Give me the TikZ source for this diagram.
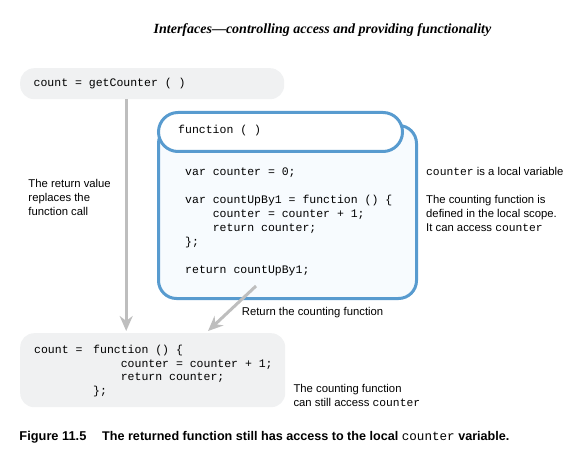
\documentclass[tikz,border=0pt]{standalone}
\usepackage{fontspec}
\setmainfont{Liberation Sans}
\setsansfont{Liberation Sans}
\setmonofont{Liberation Mono}
\newfontfamily\headfont{Liberation Serif}
\usetikzlibrary{arrows.meta}
\definecolor{boxgray}{RGB}{240,241,242}
\definecolor{fnblue}{RGB}{88,155,207}
\definecolor{bodyfill}{RGB}{247,251,254}
\definecolor{arrgray}{RGB}{190,190,190}
\tikzset{
  code/.style={inner sep=0pt, anchor=base west, align=left,
    font=\fontsize{11.5bp}{14bp}\selectfont\ttfamily},
  note/.style={inner sep=0pt, anchor=base west, align=left,
    font=\fontsize{11.3bp}{14bp}\selectfont\rmfamily},
  captext/.style={inner sep=0pt, anchor=base west,
    font=\fontsize{12.6bp}{14bp}\selectfont\rmfamily\bfseries},
  graybox/.style={fill=boxgray, draw=none, rounded corners=14bp, anchor=north west},
  fnbody/.style={draw=fnblue, line width=3bp, fill=bodyfill, rounded corners=18bp, anchor=north west},
  fntab/.style={draw=fnblue, line width=3bp, fill=white, rounded corners=19.5bp, anchor=north west},
  grayarrow/.style={draw=arrgray, line width=3bp, -{Stealth[length=15bp,width=13bp,inset=5bp]}},
}
\begin{document}
\begin{tikzpicture}[x=1bp,y=-1bp]
\path[use as bounding box] (0,0) rectangle (581,460);

\node[inner sep=0pt, anchor=base west, font=\fontsize{14bp}{16bp}\selectfont\headfont\bfseries\itshape] (title) at (153.5,33.5)
  {Interfaces—controlling access and providing functionality};

% top call box
\node[graybox, minimum width=264bp, minimum height=31bp, inner sep=0pt] (call) at (20,68) {};
\node[code] (calltxt) at (33.5,87) {count = getCounter ( )};

% function body and tab
\node[fnbody, minimum width=258bp, minimum height=173bp, inner sep=0pt] (body) at (157,124) {};
\node[fntab, minimum width=244bp, minimum height=39bp, inner sep=0pt] (tab) at (157,111) {};
\node[code] (tabtxt) at (178,133.5) {function ( )};

% (multi-line nodes: base anchor is the last line's baseline)
\node[code] (fncode) at (185,273.5) {var counter = 0;\\[14bp]
var countUpBy1 = function () \{\\
\hphantom{xxxx}counter = counter + 1;\\
\hphantom{xxxx}return counter;\\
\};\\[14bp]
return countUpBy1;};

% result box
\node[graybox, minimum width=265bp, minimum height=74bp, inner sep=0pt] (result) at (20,333) {};
\node[code] (rescount) at (34,353.5) {count =};
\node[code, font=\fontsize{11.5bp}{13.7bp}\selectfont\ttfamily] (resfn) at (93,394.6) {function () \{\\
\hphantom{xxxx}counter = counter + 1;\\
\hphantom{xxxx}return counter;\\
\};};

% arrows
\draw[grayarrow] ([xshift=-26bp]call.south) -- ([xshift=-26bp,yshift=2bp]call.south |- result.north);
\draw[grayarrow] ([shift={(99bp,14bp)}]body.south west) -- ([shift={(188bp,2bp)}]result.north west);

% notes
\node[note] (retval) at (28.3,215.3) {The return value\\replaces the\\function call};
\node[note] (localvar) at (426,175.5) {\texttt{counter} is a local variable};
\node[note] (scope) at (426,232) {The counting function is\\defined in the local scope.\\It can access \texttt{counter}};
\node[note] (retlabel) at (241.7,315.7) {Return the counting function};
\node[note] (still) at (293.3,406.3) {The counting function\\can still access \texttt{counter}};

% caption
\node[captext, font=\fontsize{12.8bp}{14bp}\selectfont\rmfamily\bfseries] (figno) at (19.3,440) {Figure 11.5};
\node[captext] (captxt) at (102,440)
  {The returned function still has access to the local {\ttfamily\mdseries counter} variable.};
\end{tikzpicture}
\end{document}
